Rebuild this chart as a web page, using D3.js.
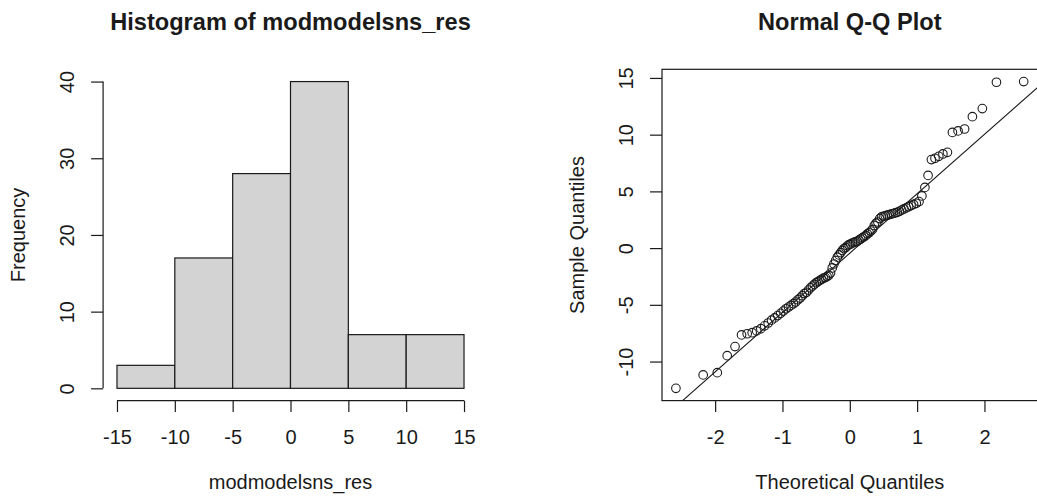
<!DOCTYPE html>
<html>
<head>
<meta charset="utf-8">
<script src="https://cdn.jsdelivr.net/npm/d3@7"></script>
<style>
  html, body { margin: 0; padding: 0; background: #fff; }
  svg { display: block; font-family: "Liberation Sans", Arial, Helvetica, sans-serif; }
</style>
</head>
<body>
<svg id="chart" width="1037" height="500"></svg>
<script>
// Residuals histogram: bin breaks and counts
const histBreaks = [-15, -10, -5, 0, 5, 10, 15];
const histCounts = [3, 17, 28, 40, 7, 7];
const histXTicks = [-15, -10, -5, 0, 5, 10, 15];
const histYTicks = [0, 10, 20, 30, 40];

// Sorted residuals (sample quantiles) for the normal Q-Q plot
const sampleQuantiles = [
  -12.36, -11.18, -10.98, -9.48, -8.68, -7.65, -7.55, -7.45, -7.30, -7.10,
  -6.85, -6.60, -6.35, -6.15, -5.95, -5.75, -5.55, -5.35, -5.20, -5.05,
  -4.90, -4.75, -4.55, -4.40, -4.20, -4.00, -3.90, -3.70, -3.50, -3.35,
  -3.20, -3.05, -2.95, -2.85, -2.75, -2.65, -2.60, -2.50, -2.40, -2.20,
  -1.75, -1.40, -1.10, -0.80, -0.60, -0.40, -0.20, -0.05, 0.05, 0.20,
  0.30, 0.35, 0.45, 0.50, 0.55, 0.60, 0.70, 0.80, 0.90, 1.00,
  1.10, 1.25, 1.35, 1.50, 1.65, 2.00, 2.20, 2.30, 2.60, 2.75,
  2.80, 2.85, 2.90, 2.95, 3.00, 3.05, 3.10, 3.15, 3.25, 3.35,
  3.45, 3.55, 3.65, 3.75, 3.85, 3.95, 4.10, 4.60, 5.35, 6.41,
  7.80, 7.91, 8.09, 8.30, 8.44, 10.20, 10.33, 10.50, 11.59, 12.30,
  14.62, 14.68
];
const qqXTicks = [-2, -1, 0, 1, 2];
const qqYTicks = [-10, -5, 0, 5, 10, 15];

const histTitle = "Histogram of modmodelsns_res";
const histXLabel = "modmodelsns_res";
const histYLabel = "Frequency";
const qqTitle = "Normal Q-Q Plot";
const qqXLabel = "Theoretical Quantiles";
const qqYLabel = "Sample Quantiles";

// Inverse standard normal CDF (Acklam's rational approximation)
function qnorm(p) {
  const a = [-3.969683028665376e+01, 2.209460984245205e+02, -2.759285104469687e+02,
             1.383577518672690e+02, -3.066479806614716e+01, 2.506628277459239e+00];
  const b = [-5.447609879822406e+01, 1.615858368580409e+02, -1.556989798598866e+02,
             6.680131188771972e+01, -1.328068155288572e+01];
  const c = [-7.784894002430293e-03, -3.223964580411365e-01, -2.400758277161838e+00,
             -2.549732539343734e+00, 4.374664141464968e+00, 2.938163982698783e+00];
  const d = [7.784695709041462e-03, 3.224671290700398e-01, 2.445134137142996e+00,
             3.754408161375303e+00];
  const plow = 0.02425, phigh = 1 - plow;
  let q, r;
  if (p < plow) {
    q = Math.sqrt(-2 * Math.log(p));
    return (((((c[0]*q + c[1])*q + c[2])*q + c[3])*q + c[4])*q + c[5]) /
           ((((d[0]*q + d[1])*q + d[2])*q + d[3])*q + 1);
  }
  if (p <= phigh) {
    q = p - 0.5; r = q * q;
    return (((((a[0]*r + a[1])*r + a[2])*r + a[3])*r + a[4])*r + a[5]) * q /
           (((((b[0]*r + b[1])*r + b[2])*r + b[3])*r + b[4])*r + 1);
  }
  q = Math.sqrt(-2 * Math.log(1 - p));
  return -(((((c[0]*q + c[1])*q + c[2])*q + c[3])*q + c[4])*q + c[5]) /
          ((((d[0]*q + d[1])*q + d[2])*q + d[3])*q + 1);
}

// Plotting positions (i - 0.5) / n, as used for n > 10
const n = sampleQuantiles.length;
const qqPoints = sampleQuantiles.map((s, i) => ({ t: qnorm((i + 0.5) / n), s }));

// Reference line through the first and third quartiles
const sorted = sampleQuantiles.slice().sort(d3.ascending);
const yq1 = d3.quantileSorted(sorted, 0.25), yq3 = d3.quantileSorted(sorted, 0.75);
const xq1 = qnorm(0.25), xq3 = qnorm(0.75);
const lineSlope = (yq3 - yq1) / (xq3 - xq1);
const lineIntercept = yq1 - lineSlope * xq1;

// Padded range, 4% each side
function padded(lo, hi) { const e = (hi - lo) * 0.04; return [lo - e, hi + e]; }

const INK = "#1a1a1a";
const TICK_FONT = 20, TITLE_FONT = 23.6;
const plotTop = 69.3, plotBottom = 400.6;
const fmt = d => String(d);   // plain hyphen-minus for negatives

const svg = d3.select("#chart");

function styleAxis(g) {
  g.select(".domain").remove();
  g.selectAll(".tick line").attr("stroke", INK).attr("stroke-width", 1.2);
  g.selectAll(".tick text").attr("fill", INK).style("font-size", TICK_FONT + "px")
    .attr("font-family", null);
}

function bottomAxis(g, scale, ticks) {
  g.attr("transform", `translate(0,${plotBottom})`)
    .call(d3.axisBottom(scale).tickValues(ticks).tickSize(11.5).tickSizeOuter(0).tickFormat(fmt))
    .call(styleAxis);
  g.selectAll(".tick text").attr("y", 43).attr("dy", null);
}

function leftAxis(g, x0, scale, ticks) {
  g.attr("transform", `translate(${x0},0)`)
    .call(d3.axisLeft(scale).tickValues(ticks).tickSize(12).tickSizeOuter(0).tickFormat(fmt))
    .call(styleAxis);
  g.selectAll(".tick text")
    .attr("transform", "rotate(-90)")
    .attr("x", 0).attr("y", -29).attr("dy", null)
    .attr("text-anchor", "middle");
}

function titles(x0, x1, axisX, title, xLabel, yLabel) {
  const cx = (x0 + x1) / 2, cy = (plotTop + plotBottom) / 2;
  svg.append("text").attr("x", cx).attr("y", 29.5).attr("text-anchor", "middle")
    .attr("font-weight", "bold").style("font-size", TITLE_FONT + "px").attr("fill", INK).text(title);
  svg.append("text").attr("x", cx).attr("y", 489).attr("text-anchor", "middle")
    .style("font-size", TICK_FONT + "px").attr("fill", INK).text(xLabel);
  svg.append("text").attr("transform", `translate(${axisX - 78.5},${cy}) rotate(-90)`)
    .attr("text-anchor", "middle").style("font-size", TICK_FONT + "px").attr("fill", INK).text(yLabel);
}

// ---- Histogram panel ----
const hx0 = 103.1, hx1 = 477.9;
const hx = d3.scaleLinear().domain(padded(d3.min(histBreaks), d3.max(histBreaks))).range([hx0, hx1]);
const hy = d3.scaleLinear().domain(padded(0, d3.max(histCounts))).range([plotBottom, plotTop]);

const bins = histCounts.map((c, i) => ({ x0: histBreaks[i], x1: histBreaks[i + 1], count: c }));
svg.append("g").selectAll("rect").data(bins).join("rect")
  .attr("x", d => hx(d.x0)).attr("width", d => hx(d.x1) - hx(d.x0))
  .attr("y", d => hy(d.count)).attr("height", d => hy(0) - hy(d.count))
  .attr("fill", "#d3d3d3").attr("stroke", INK).attr("stroke-width", 1.2);

const hxAxis = svg.append("g").call(bottomAxis, hx, histXTicks);
hxAxis.append("line").attr("x1", hx(histXTicks[0])).attr("x2", hx(histXTicks[histXTicks.length - 1]))
  .attr("stroke", INK).attr("stroke-width", 1.2);
const hyAxis = svg.append("g").call(leftAxis, hx0, hy, histYTicks);
hyAxis.append("line").attr("y1", hy(histYTicks[0])).attr("y2", hy(histYTicks[histYTicks.length - 1]))
  .attr("stroke", INK).attr("stroke-width", 1.2);
titles(hx0, hx1, hx0, histTitle, histXLabel, histYLabel);

// ---- Normal Q-Q panel ----
const qx0 = 662, qx1 = 1037.6;
const qx = d3.scaleLinear().domain(padded(d3.min(qqPoints, d => d.t), d3.max(qqPoints, d => d.t))).range([qx0, qx1]);
const qy = d3.scaleLinear().domain(padded(d3.min(sampleQuantiles), d3.max(sampleQuantiles))).range([plotBottom, plotTop]);

svg.append("defs").append("clipPath").attr("id", "qqclip")
  .append("rect").attr("x", qx0).attr("y", plotTop).attr("width", qx1 - qx0).attr("height", plotBottom - plotTop);

const [tLo, tHi] = qx.domain();
svg.append("line").attr("clip-path", "url(#qqclip)")
  .attr("x1", qx(tLo)).attr("y1", qy(lineIntercept + lineSlope * tLo))
  .attr("x2", qx(tHi)).attr("y2", qy(lineIntercept + lineSlope * tHi))
  .attr("stroke", INK).attr("stroke-width", 1.1);

svg.append("g").selectAll("circle").data(qqPoints).join("circle")
  .attr("cx", d => qx(d.t)).attr("cy", d => qy(d.s)).attr("r", 4.3)
  .attr("fill", "none").attr("stroke", INK).attr("stroke-width", 1.1);

svg.append("rect").attr("x", qx0).attr("y", plotTop).attr("width", qx1 - qx0).attr("height", plotBottom - plotTop)
  .attr("fill", "none").attr("stroke", INK).attr("stroke-width", 1.2);

svg.append("g").call(bottomAxis, qx, qqXTicks);
svg.append("g").call(leftAxis, qx0, qy, qqYTicks);
titles(qx0, qx1, qx0, qqTitle, qqXLabel, qqYLabel);
</script>
</body>
</html>
